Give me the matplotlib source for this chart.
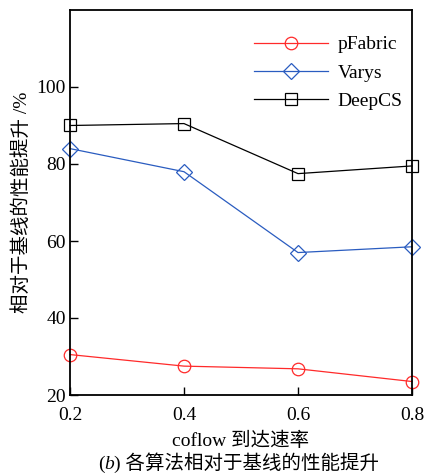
import matplotlib
matplotlib.use("Agg")
import matplotlib.pyplot as plt

x_vals = [0.2, 0.4, 0.6, 0.8]
pfabric = [30.5, 27.5, 26.8, 23.5]
varys = [84.0, 78.0, 57.0, 58.5]
deepcs = [90.0, 90.5, 77.5, 79.5]
xticks = [0.2, 0.4, 0.6, 0.8]
yticks = [20, 40, 60, 80, 100]

fam = ['Liberation Serif', 'Noto Sans CJK SC']
plt.rcParams['font.family'] = fam

fig = plt.figure(figsize=(4.25, 4.76), dpi=100)
ax = fig.add_axes([70/425, 81/476, 342/425, 385/476])

ax.plot(x_vals, pfabric, color='#ff2a2a', lw=0.9, marker='o', ms=9, mfc='none', mec='#ff2a2a', mew=0.9, label='pFabric')
ax.plot(x_vals, varys, color='#2a5cc0', lw=0.9, marker='D', ms=8, mfc='none', mec='#2a5cc0', mew=0.9, label='Varys')
ax.plot(x_vals, deepcs, color='black', lw=0.9, marker='s', ms=9, mfc='none', mec='black', mew=0.9, label='DeepCS')

ax.set_xlim(0.2, 0.8)
ax.set_ylim(20, 120)
ax.set_xticks(xticks)
ax.set_xticklabels([f'{v:.1f}' for v in xticks])
ax.set_yticks(yticks)
ax.tick_params(direction='in', length=6, width=1, labelsize=14, top=False, right=False)
ax.tick_params(axis='x', pad=9)
ax.tick_params(axis='y', pad=3)
for s in ax.spines.values():
    s.set_linewidth(1.3)
for l in ax.lines:
    l.set_clip_on(False)

ax.set_xlabel('coflow 到达速率', fontsize=14, labelpad=5)
ax.set_ylabel('相对于基线的性能提升 /%', fontsize=14, labelpad=4)

leg = ax.legend(loc='upper right', bbox_to_anchor=(1.0, 0.958), frameon=False, fontsize=14,
                handlelength=3.8, borderaxespad=0.09, labelspacing=0.55, handletextpad=0.5)

# caption with italic b, built from pieces
fig.canvas.draw()
r = fig.canvas.get_renderer()
parts = [('(', 'normal'), ('b', 'italic'), (') 各算法相对于基线的性能提升', 'normal')]
texts = []
for s, st in parts:
    t = fig.text(0, 0.006, s, fontsize=14, style=st, ha='left', va='bottom')
    texts.append(t)
widths = [t.get_window_extent(r).width for t in texts]
total = sum(widths)
cx = 0.562 * fig.bbox.width
x0 = cx - total / 2
for t, w in zip(texts, widths):
    t.set_x(x0 / fig.bbox.width)
    x0 += w

fig.savefig('out.png', dpi=100)
